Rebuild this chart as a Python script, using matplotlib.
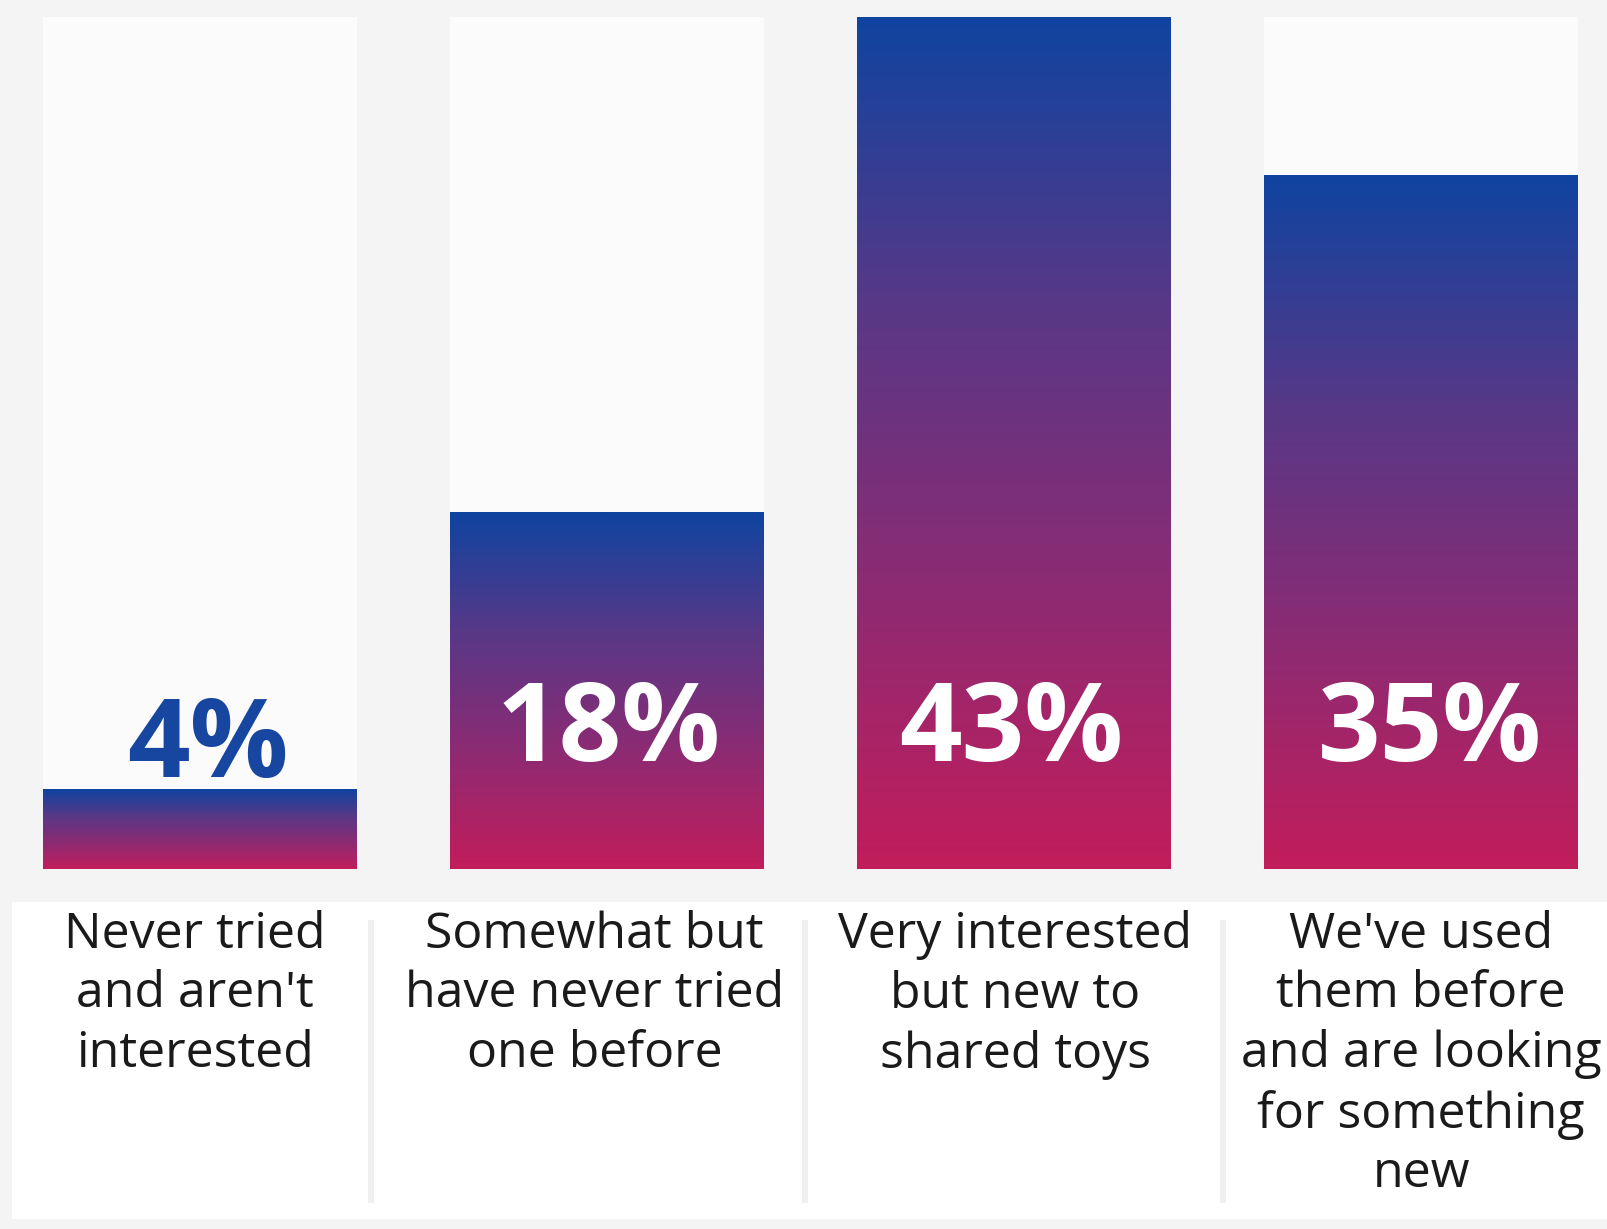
import numpy as np
import matplotlib.pyplot as plt
from matplotlib.colors import LinearSegmentedColormap
from matplotlib.patches import Rectangle
from matplotlib.transforms import blended_transform_factory

categories = ["Never tried\nand aren't\ninterested",
              "Somewhat but\nhave never tried\none before",
              "Very interested\nbut new to\nshared toys",
              "We've used\nthem before\nand are looking\nfor something\nnew"]
values = [4, 18, 43, 35]
value_labels = ["4%", "18%", "43%", "35%"]

W, H = 1608, 1229
plt.rcParams['font.family'] = ['Open Sans', 'DejaVu Sans']

fig = plt.figure(figsize=(W / 100, H / 100), dpi=100)
fig.patch.set_facecolor('#f4f4f4')

# bar area in pixel terms
left, right, bottom, top = 43, 1578, 869, 17
ax = fig.add_axes([left / W, 1 - bottom / H, (right - left) / W, (bottom - top) / H])
bw = 0.77
x = np.arange(len(values))
ax.axis('off')

grad = LinearSegmentedColormap.from_list('g', ['#c21d5b', '#8c2b73', '#573887', '#0f44a0'])
g = np.linspace(0, 1, 256).reshape(-1, 1)

for xi, v in zip(x, values):
    ax.bar(xi, max(values), width=bw, color='#fbfbfb', zorder=1)
    ax.imshow(g, cmap=grad, origin='lower', aspect='auto', zorder=2,
              extent=(xi - bw / 2, xi + bw / 2, 0, v))

ax.set_xlim(-bw / 2, len(values) - 1 + bw / 2)
ax.set_ylim(0, max(values))

tr = blended_transform_factory(ax.transData, fig.transFigure)

# percentage labels
pct_dx = [0.02, 0.005, -0.008, 0.022]
for xi, v, lab, dx in zip(x, values, value_labels, pct_dx):
    col = '#1646a0' if v < 10 else 'white'
    ypos = 749 if v < 10 else 733
    ax.text(xi + dx, 1 - ypos / H, lab, transform=tr,
            ha='center', va='center', fontsize=79, fontweight='bold', color=col, zorder=5)

# category label panel
fig.patches.append(Rectangle((12 / W, 1 - 1219 / H), (W - 12) / W, (1219 - 902) / H,
                             transform=fig.transFigure, facecolor='white', edgecolor='none', zorder=-2))
for sx in [371, 805, 1223]:
    fig.patches.append(Rectangle(((sx - 3) / W, 1 - 1203 / H), 6 / W, (1203 - 920) / H,
                                 transform=fig.transFigure, facecolor='#f0f0f0', edgecolor='none', zorder=-1))

lab_dx = [-0.012, -0.03, 0.003, 0.0]
for xi, c, dx in zip(x, categories, lab_dx):
    ax.text(xi + dx, 1 - 910 / H, c, transform=tr, ha='center', va='top', fontsize=36,
            color='#1a1a1a', linespacing=1.27, clip_on=False)

fig.savefig('out.png', dpi=100, facecolor=fig.get_facecolor())
